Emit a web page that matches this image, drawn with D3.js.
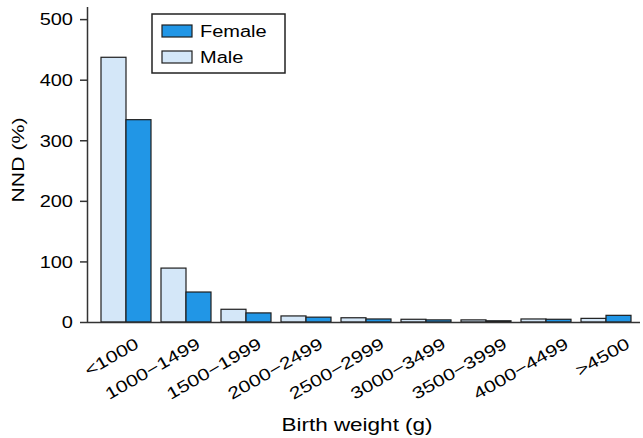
<!DOCTYPE html>
<html>
<head>
<meta charset="utf-8">
<script src="https://cdn.jsdelivr.net/npm/d3@7"></script>
<style>
  html, body { margin: 0; padding: 0; background: #fff; }
  svg { display: block; font-family: "Liberation Sans", Arial, Helvetica, sans-serif; }
</style>
</head>
<body>
<svg id="chart" width="643" height="438"></svg>
<script>
const categories = ["<1000", "1000\u22121499", "1500\u22121999", "2000\u22122499", "2500\u22122999",
                    "3000\u22123499", "3500\u22123999", "4000\u22124499", ">4500"];
const maleValues   = [437, 89, 21, 10, 7, 4.5, 3.5, 5, 6];
const femaleValues = [334, 49.5, 15, 8, 5, 3.5, 2, 4.5, 11];
const yTicks = [0, 100, 200, 300, 400, 500];
const seriesNames = ["Male", "Female"];
const legendOrder = ["Female", "Male"];
const colors = { Male: "#d4e7f8", Female: "#2196e6" };

const W = 643, H = 438;
const mLeft = 87, mRight = 640, mTop = 7, mBottom = 322;
const stretch = 1.25;

const svg = d3.select("#chart");

const x = d3.scaleBand().domain(categories).range([96, 636]).paddingInner(1/6).paddingOuter(1/12);
const xs = d3.scaleBand().domain(seriesNames).range([0, x.bandwidth()]);
const y = d3.scaleLinear().domain([0, 520]).range([mBottom, mTop]);
// anchor points (text end) of the slanted category labels
const xLabel = d3.scalePoint().domain(categories).range([140, 631]);

// bars
const data = categories.map((c, i) => ({ cat: c, Male: maleValues[i], Female: femaleValues[i] }));
const groups = svg.append("g").selectAll("g").data(data).join("g")
  .attr("transform", d => `translate(${x(d.cat)},0)`);
groups.selectAll("rect").data(d => seriesNames.map(s => ({ s, v: d[s] }))).join("rect")
  .attr("x", d => xs(d.s))
  .attr("width", xs.bandwidth())
  .attr("y", d => y(d.v))
  .attr("height", d => y(0) - y(d.v))
  .attr("fill", d => colors[d.s])
  .attr("stroke", "#1e1e1e")
  .attr("stroke-width", 1.2);

// y axis
const yAxis = svg.append("g").attr("transform", `translate(${mLeft},0)`)
  .call(d3.axisLeft(y).tickValues(yTicks).tickSize(7).tickSizeOuter(0).tickPadding(6));
yAxis.select(".domain").attr("stroke", "#333").attr("stroke-width", 1.5)
  .attr("d", `M0.5,${mTop}V${mBottom}`);
yAxis.selectAll(".tick line").attr("stroke", "#333").attr("stroke-width", 1.5);
yAxis.selectAll(".tick text")
  .attr("font-size", 16).attr("fill", "#000")
  .attr("font-family", "Liberation Sans, Arial, sans-serif")
  .attr("x", null).attr("dy", "0.36em")
  .attr("transform", `translate(-14,0) scale(${stretch},1)`);

// x axis
const xAxis = svg.append("g").attr("transform", `translate(0,${mBottom})`)
  .call(d3.axisBottom(x).tickSize(0).tickSizeOuter(0).tickPadding(0));
xAxis.select(".domain").attr("stroke", "#333").attr("stroke-width", 1.5)
  .attr("d", `M${mLeft},0.5H${mRight}`);
xAxis.selectAll(".tick").attr("transform", null);
xAxis.selectAll(".tick text")
  .attr("font-size", 16.5).attr("fill", "#000")
  .attr("font-family", "Liberation Sans, Arial, sans-serif")
  .attr("text-anchor", "end")
  .attr("y", null).attr("dy", null)
  .attr("transform", d => `translate(${xLabel(d)},25) rotate(-30) scale(1.28,1)`);

// axis titles
svg.append("text")
  .attr("transform", `translate(357,431) scale(${stretch},1)`)
  .attr("text-anchor", "middle").attr("font-size", 18).attr("fill", "#000")
  .text("Birth weight (g)");
svg.append("text")
  .attr("transform", `translate(24,160) rotate(-90) scale(${stretch},1)`)
  .attr("text-anchor", "middle").attr("font-size", 17).attr("fill", "#000")
  .text("NND (%)");

// legend
const lg = svg.append("g").attr("transform", "translate(152,14)");
lg.append("rect").attr("x", 0).attr("y", 0).attr("width", 133).attr("height", 59)
  .attr("fill", "#fff").attr("stroke", "#222").attr("stroke-width", 1.5);
const li = lg.selectAll("g.item").data(legendOrder).join("g").attr("class", "item")
  .attr("transform", (d, i) => `translate(10,${11 + i * 26})`);
li.append("rect").attr("width", 30).attr("height", 12)
  .attr("fill", d => colors[d]).attr("stroke", "#1e1e1e").attr("stroke-width", 1.2);
li.append("text").attr("transform", `translate(38,12) scale(${stretch},1)`)
  .attr("font-size", 16).attr("fill", "#000").text(d => d);
</script>
</body>
</html>
